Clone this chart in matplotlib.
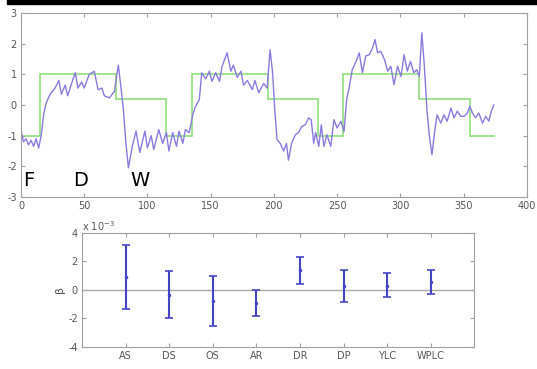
import numpy as np
import matplotlib
matplotlib.use('Agg')
import matplotlib.pyplot as plt
from matplotlib.patches import Rectangle

plt.rcParams['axes.unicode_minus'] = False

# Step 1: data
# green step: model level per segment
step_edges = [0, 15, 75, 115, 135, 195, 235, 255, 315, 355, 375]
step_levels = [-1, 1, 0.2, -1, 1, 0.2, -1, 1, 0.2, -1]

# purple trace: measured signal
sig_t = [0, 2, 4, 6, 8, 10, 12, 14, 16, 18, 20, 23, 27, 30, 32, 35, 37, 40, 43, 45, 48, 50,
         54, 58, 61, 64, 66, 70, 74, 77, 79, 81, 83, 85, 88, 91, 94, 98, 100, 103, 105,
         109, 112, 115, 117, 120, 123, 125, 128, 130, 133, 136, 138, 141, 143, 146, 149,
         151, 154, 157, 159, 163, 166, 168, 171, 174, 176, 179, 183, 185, 188, 192, 194.7,
         197, 199, 200.7, 202.5, 205, 207.8, 210, 211.5, 214, 217, 219.5, 222, 225, 227.5,
         229.5, 231.5, 233, 235.5, 237.5, 239.5, 242, 245, 247.5, 250, 253, 255.5, 257.5,
         259.5, 262, 265, 267.5, 270, 272.7, 275.5, 278, 280, 282, 284.5, 287.5, 290,
         292.5, 295, 297.8, 300.5, 303, 305.5, 308, 310.7, 313, 315, 317, 319, 321, 323,
         325, 327, 329, 332, 334.5, 337, 340, 342.5, 345, 347.8, 350.5, 353, 355, 357,
         359.5, 362, 365, 367.5, 370, 372, 374]
sig_v = [-0.8, -1.2, -1.1, -1.3, -1.15, -1.35, -1.1, -1.4, -1.0, -0.3, 0.07, 0.35, 0.55,
         0.8, 0.35, 0.65, 0.3, 0.7, 1.05, 0.55, 0.75, 0.55, 1.0, 1.1, 0.5, 0.55, 0.3, 0.23,
         0.45, 1.3, 0.6, -0.15, -1.25, -2.05, -1.35, -0.85, -1.55, -0.85, -1.4, -1.0,
         -1.45, -0.8, -1.25, -0.9, -1.5, -0.9, -1.35, -0.85, -1.25, -0.8, -0.9, -0.3,
         -0.05, 0.17, 1.05, 0.85, 1.1, 0.77, 1.05, 0.77, 1.25, 1.7, 1.1, 1.3, 0.9, 1.1,
         0.65, 0.8, 0.5, 0.8, 0.4, 0.7, 0.55, 1.8, 1.05, -0.15, -1.13, -1.25, -1.5, -1.25,
         -1.8, -1.25, -0.97, -0.9, -0.7, -0.64, -0.42, -0.48, -1.25, -0.9, -1.35, -0.65,
         -1.35, -0.97, -1.35, -0.48, -0.75, -0.53, -0.86, 0.17, 0.55, 1.15, 1.42, 1.7,
         1.05, 1.6, 1.64, 1.86, 2.13, 1.7, 1.75, 1.48, 1.1, 1.26, 0.66, 1.26, 0.93, 1.64,
         1.1, 1.42, 1.05, 1.15, 0.93, 2.35, 1.26, -0.15, -1.02, -1.62, -0.91, -0.32,
         -0.59, -0.32, -0.53, -0.1, -0.42, -0.2, -0.37, -0.37, -0.26, -0.04, -0.26, -0.42,
         -0.26, -0.59, -0.37, -0.53, -0.2, 0.0]

phase_labels = ['F', 'D', 'W']
phase_x = [6, 47, 94]

# coefficients (x 1e-3) with interval ends
coef_names = ['AS', 'DS', 'OS', 'AR', 'DR', 'DP', 'YLC', 'WPLC']
coef_mid = [0.93, -0.35, -0.77, -0.89, 1.4, 0.3, 0.3, 0.58]
coef_lo = [-1.35, -1.99, -2.57, -1.8, 0.4, -0.82, -0.51, -0.28]
coef_hi = [3.16, 1.33, 1.0, -0.02, 2.3, 1.4, 1.15, 1.4]

# Step 2: figure
fig = plt.figure(figsize=(5.37, 3.69), dpi=100)
fig.patches.append(Rectangle((0.013, 0.99), 1.0, 0.02, transform=fig.transFigure,
                             color='black', zorder=10))

tick_col = '#555555'
spine_col = '#a0a0a0'

ax1 = fig.add_axes([0.039, 0.466, 0.942, 0.499])
ax1.stairs(step_levels, step_edges, baseline=None, color='#86dc72', lw=1.1)
ax1.plot(sig_t, sig_v, color='#8a7ae0', lw=1.0)
for lab, x in zip(phase_labels, phase_x):
    ax1.text(x, -2.45, lab, fontsize=14, ha='center', va='center', color='black')
ax1.set_xlim(0, 400)
ax1.set_ylim(-3, 3)
ax1.set_xticks(range(0, 401, 50))
ax1.set_yticks(range(-3, 4))

ax2 = fig.add_axes([0.153, 0.060, 0.730, 0.309])
ax2.axhline(0, color='#aaaaaa', lw=1.0)
xs = np.arange(1, len(coef_names) + 1)
mid = np.array(coef_mid)
err = [mid - np.array(coef_lo), np.array(coef_hi) - mid]
ax2.errorbar(xs, mid, yerr=err, fmt='.', ms=3, color='#4444c8', ecolor='#4444c8',
             elinewidth=1.5, capsize=3, capthick=1.2)
ax2.set_xlim(0, 9)
ax2.set_ylim(-4, 4)
ax2.set_xticks(xs)
ax2.set_xticklabels(coef_names)
ax2.set_yticks([-4, -2, 0, 2, 4])
ax2.set_ylabel('β', color=tick_col, fontsize=8, labelpad=2)
ax2.text(0.0, 1.02, r'x 10$^{-3}$', transform=ax2.transAxes, fontsize=7, color=tick_col)

for ax in (ax1, ax2):
    for s in ax.spines.values():
        s.set_color(spine_col)
        s.set_linewidth(0.8)
    ax.tick_params(direction='in', length=3, color=spine_col, labelcolor=tick_col,
                   labelsize=7, top=True, right=True, pad=3)

fig.savefig('out.png', dpi=100)
